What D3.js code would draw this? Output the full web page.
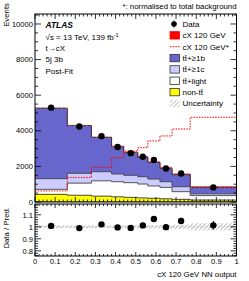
<!DOCTYPE html>
<html>
<head>
<meta charset="utf-8">
<script src="https://cdn.jsdelivr.net/npm/d3@7"></script>
<style>
  body { margin: 0; background: #fff; }
  svg { font-family: "Liberation Sans", Arial, Helvetica, sans-serif; }
</style>
</head>
<body>
<svg id="chart" width="249" height="281"></svg>
<script>
// bin edges of the NN output
const binEdges = [0, 0.16, 0.28, 0.38, 0.44, 0.51, 0.56, 0.62, 0.68, 0.77, 1.0];

// stacked backgrounds (events), bottom to top
const nonTT   = [430, 380, 330, 290, 260, 230, 210, 180, 150, 110];
const ttLight = [280, 680, 860, 850, 825, 780, 690, 640, 430, 250];
const ttC     = [600, 550, 510, 435, 415, 410, 390, 320, 280, 100];
const ttB     = [3950, 2680, 1925, 1530, 1270, 1090, 925, 745, 670, 350];
const signal  = [10, 10, 15, 25, 30, 30, 35, 35, 40, 40];

// signal shape normalised to total background
const signalNorm = [620, 1380, 1950, 2490, 2860, 3050, 3430, 3710, 4100, 4760];

// data
const dataVals = [5300, 4245, 3700, 3090, 2745, 2540, 2360, 1880, 1605, 820];
const dataErr  = [73, 65, 61, 56, 52, 50, 49, 43, 40, 29];

// relative uncertainty on prediction
const relUnc = [0.012, 0.012, 0.012, 0.012, 0.013, 0.013, 0.014, 0.015, 0.018, 0.03];

const yTicks = [0, 2000, 4000, 6000, 8000, 10000];
const rTicks = [0.8, 0.9, 1, 1.1];
const xTicks = [0, 0.1, 0.2, 0.3, 0.4, 0.5, 0.6, 0.7, 0.8, 0.9, 1];

const legendItems = [
  {label: "Data", kind: "data"},
  {label: "cX 120 GeV", kind: "box", fill: "#ff0000", stroke: "#ff0000"},
  {label: "cX 120 GeV*", kind: "dash"},
  {label: "tt\u0304+\u22651b", kind: "box", fill: "#6666cc", stroke: "#333"},
  {label: "tt\u0304+\u22651c", kind: "box", fill: "#ccccff", stroke: "#333"},
  {label: "tt\u0304+light", kind: "box", fill: "#ffffff", stroke: "#333"},
  {label: "non-tt\u0304", kind: "box", fill: "#ffff00", stroke: "#333"},
  {label: "Uncertainty", kind: "hatch"}
];

const svg = d3.select("#chart");
const L = 35, R = 236.5;
const mainTop = 14, mainBot = 202;
const ratTop = 204, ratBot = 256;

const x = d3.scaleLinear().domain([0, 1]).range([L, R]);
const y = d3.scaleLinear().domain([0, 10560]).range([mainBot, mainTop]);
const yr = d3.scaleLinear().domain([0.757, 1.19]).range([ratBot, ratTop]);

// hatch pattern
const defs = svg.append("defs");
const pat = defs.append("pattern").attr("id", "hatch").attr("patternUnits", "userSpaceOnUse")
  .attr("width", 3).attr("height", 3).attr("patternTransform", "rotate(45)");
pat.append("line").attr("x1", 0).attr("y1", 0).attr("x2", 0).attr("y2", 3)
  .attr("stroke", "#999").attr("stroke-width", 1.2);
defs.append("clipPath").attr("id", "clipMain").append("rect")
  .attr("x", L).attr("y", mainTop).attr("width", R - L).attr("height", mainBot - mainTop);
defs.append("clipPath").attr("id", "clipRat").append("rect")
  .attr("x", L).attr("y", ratTop).attr("width", R - L).attr("height", ratBot - ratTop);

const nb = dataVals.length;
const cum = (arrs) => d3.range(nb).map(i => d3.sum(arrs, a => a[i]));
const total = cum([nonTT, ttLight, ttC, ttB]);
const layers = [
  {vals: cum([nonTT, ttLight, ttC, ttB, signal]), fill: "#ff0000", stroke: "#ff0000"},
  {vals: total, fill: "#6666cc", stroke: "#333"},
  {vals: cum([nonTT, ttLight, ttC]), fill: "#ccccff", stroke: "#444"},
  {vals: cum([nonTT, ttLight]), fill: "#ffffff", stroke: "#444"},
  {vals: nonTT, fill: "#ffff00", stroke: "#333"}
];

function stepPath(vals, sy, closed) {
  let d = "";
  vals.forEach((v, i) => {
    const x0 = x(binEdges[i]), x1 = x(binEdges[i + 1]), yy = sy(v);
    d += (i === 0 ? (closed ? `M${x0},${sy(0)}L${x0},${yy}` : `M${x0},${yy}`) : `L${x0},${yy}`) + `L${x1},${yy}`;
  });
  if (closed) d += `L${x(binEdges[nb])},${sy(0)}Z`;
  return d;
}

const gm = svg.append("g").attr("clip-path", "url(#clipMain)");
layers.forEach(l => {
  gm.append("path").attr("d", stepPath(l.vals, y, true))
    .attr("fill", l.fill).attr("stroke", l.stroke).attr("stroke-width", 0.9);
});

// uncertainty on total (main)
gm.selectAll("rect.unc").data(total).join("rect")
  .attr("x", (d, i) => x(binEdges[i])).attr("width", (d, i) => x(binEdges[i + 1]) - x(binEdges[i]))
  .attr("y", (d, i) => y(d * (1 + relUnc[i]))).attr("height", (d, i) => y(d * (1 - relUnc[i])) - y(d * (1 + relUnc[i])))
  .attr("fill", "url(#hatch)");

// normalised signal
gm.append("path").attr("d", stepPath(signalNorm, y, false))
  .attr("fill", "none").attr("stroke", "#ff0000").attr("stroke-width", 1).attr("stroke-dasharray", "1.5,1.2");

const centers = d3.range(nb).map(i => (binEdges[i] + binEdges[i + 1]) / 2);

// data points
const gd = svg.append("g");
gd.selectAll("line.err").data(dataVals).join("line")
  .attr("x1", (d, i) => x(centers[i])).attr("x2", (d, i) => x(centers[i]))
  .attr("y1", (d, i) => y(d - dataErr[i])).attr("y2", (d, i) => y(d + dataErr[i]))
  .attr("stroke", "#000").attr("stroke-width", 1);
gd.selectAll("circle").data(dataVals).join("circle")
  .attr("cx", (d, i) => x(centers[i])).attr("cy", d => y(d)).attr("r", 3.2).attr("fill", "#000");

// ratio panel
const gr = svg.append("g").attr("clip-path", "url(#clipRat)");
gr.selectAll("rect.unc").data(relUnc).join("rect")
  .attr("x", (d, i) => x(binEdges[i])).attr("width", (d, i) => x(binEdges[i + 1]) - x(binEdges[i]))
  .attr("y", d => yr(1 + d)).attr("height", d => yr(1 - d) - yr(1 + d))
  .attr("fill", "url(#hatch)");
gr.append("line").attr("x1", L).attr("x2", R).attr("y1", yr(1)).attr("y2", yr(1))
  .attr("stroke", "#aaa").attr("stroke-width", 0.8).attr("stroke-dasharray", "1.5,1.5");
const ratio = dataVals.map((d, i) => d / total[i]);
gr.selectAll("line.err").data(ratio).join("line")
  .attr("x1", (d, i) => x(centers[i])).attr("x2", (d, i) => x(centers[i]))
  .attr("y1", (d, i) => yr(d - dataErr[i] / total[i])).attr("y2", (d, i) => yr(d + dataErr[i] / total[i]))
  .attr("stroke", "#000").attr("stroke-width", 1);
gr.selectAll("circle").data(ratio).join("circle")
  .attr("cx", (d, i) => x(centers[i])).attr("cy", d => yr(d)).attr("r", 3.2).attr("fill", "#000");

// frames and ticks
function frame(t, b) {
  svg.append("rect").attr("x", L).attr("y", t).attr("width", R - L).attr("height", b - t)
    .attr("fill", "none").attr("stroke", "#000").attr("stroke-width", 1);
}
frame(mainTop, mainBot);
frame(ratTop, ratBot);

const tk = svg.append("g").attr("stroke", "#000").attr("stroke-width", 0.8);
function xTickMarks(t, b, maj, min) {
  d3.range(0, 1.0001, 0.02).forEach(v => {
    const isMaj = Math.abs(v * 10 - Math.round(v * 10)) < 1e-6;
    const len = isMaj ? maj : min;
    tk.append("line").attr("x1", x(v)).attr("x2", x(v)).attr("y1", b).attr("y2", b - len);
    tk.append("line").attr("x1", x(v)).attr("x2", x(v)).attr("y1", t).attr("y2", t + len);
  });
}
xTickMarks(mainTop, mainBot, 5, 2.5);
xTickMarks(ratTop, ratBot, 4, 2);

function yTickMarks(scale, step, majStep, maj, min) {
  const [d0, d1] = scale.domain();
  const start = Math.ceil(d0 / step - 1e-6) * step;
  for (let v = start; v <= d1 + 1e-9; v += step) {
    const isMaj = Math.abs(v / majStep - Math.round(v / majStep)) < 1e-6;
    const len = isMaj ? maj : min;
    tk.append("line").attr("x1", L).attr("x2", L + len).attr("y1", scale(v)).attr("y2", scale(v));
    tk.append("line").attr("x1", R).attr("x2", R - len).attr("y1", scale(v)).attr("y2", scale(v));
  }
}
yTickMarks(y, 500, 2000, 6, 3);
yTickMarks(yr, 0.02, 0.1, 6, 3);

// tick labels
const fs = 7.6;
svg.append("g").selectAll("text").data(yTicks).join("text")
  .attr("x", L - 2).attr("y", d => y(d) + 2.7).attr("text-anchor", "end")
  .attr("font-size", fs).text(d => d);
svg.append("g").selectAll("text").data(rTicks).join("text")
  .attr("x", L - 2).attr("y", d => yr(d) + 2.7).attr("text-anchor", "end")
  .attr("font-size", fs).text(d => d);
svg.append("g").selectAll("text").data(xTicks).join("text")
  .attr("x", d => x(d)).attr("y", ratBot + 8).attr("text-anchor", "middle")
  .attr("font-size", fs).text(d => d);

// axis titles
svg.append("text").attr("transform", `translate(8.5,${mainTop - 11}) rotate(-90)`)
  .attr("text-anchor", "end").attr("font-size", 7.8).text("Events");
svg.append("text").attr("transform", `translate(8.5,${ratTop + 3}) rotate(-90)`)
  .attr("text-anchor", "end").attr("font-size", 7.8).text("Data / Pred.");
svg.append("text").attr("x", R).attr("y", 277).attr("text-anchor", "end")
  .attr("font-size", 7.8).text("cX 120 GeV NN output");
svg.append("text").attr("x", R).attr("y", 8.5).attr("text-anchor", "end")
  .attr("font-size", 7.8).text("*: normalised to total background");

// labels
const lab = svg.append("g").attr("font-size", 8);
lab.append("text").attr("x", 45.5).attr("y", 27.5).attr("font-weight", "bold")
  .attr("font-style", "italic").attr("font-size", 8.4).text("ATLAS");
lab.append("text").attr("x", 45.5).attr("y", 39.5).html('\u221As = 13 TeV, 139 fb<tspan dy="-3" font-size="5.5">-1</tspan>');
lab.append("text").attr("x", 45.5).attr("y", 51).text("t\u2192cX");
lab.append("text").attr("x", 45.5).attr("y", 62.3).text("5j 3b");
lab.append("text").attr("x", 45.5).attr("y", 73.6).text("Post-Fit");

// legend
const lg = svg.append("g").attr("font-size", 8);
legendItems.forEach((it, i) => {
  const cy = 24 + i * 11.35;
  if (it.kind === "data") {
    lg.append("line").attr("x1", 174).attr("x2", 174).attr("y1", cy - 3.5).attr("y2", cy + 3.5)
      .attr("stroke", "#000").attr("stroke-width", 1);
    lg.append("circle").attr("cx", 174).attr("cy", cy).attr("r", 2.8).attr("fill", "#000");
  } else if (it.kind === "box") {
    lg.append("rect").attr("x", 170).attr("y", cy - 3.7).attr("width", 9.5).attr("height", 7.4)
      .attr("fill", it.fill).attr("stroke", it.stroke).attr("stroke-width", 0.8);
  } else if (it.kind === "dash") {
    lg.append("line").attr("x1", 170).attr("x2", 179.5).attr("y1", cy).attr("y2", cy)
      .attr("stroke", "#ff0000").attr("stroke-width", 1).attr("stroke-dasharray", "1.5,1.2");
  } else {
    lg.append("rect").attr("x", 170).attr("y", cy - 3.7).attr("width", 9.5).attr("height", 7.4)
      .attr("fill", "url(#hatch)");
  }
  lg.append("text").attr("x", 182.5).attr("y", cy + 2.9).text(it.label);
});
</script>
</body>
</html>
